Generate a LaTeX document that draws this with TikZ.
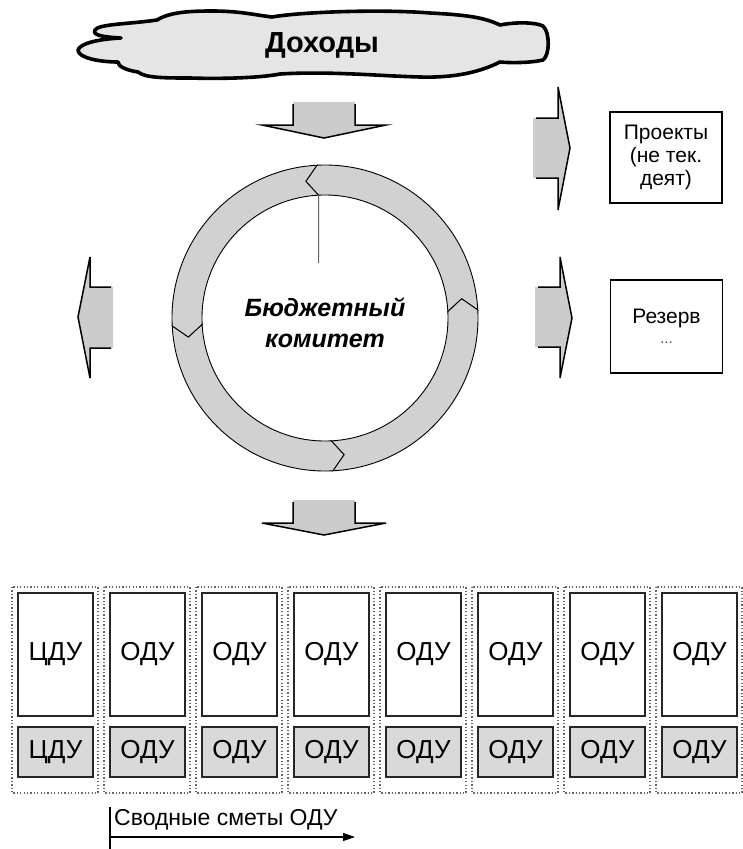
\documentclass[tikz,border=0pt]{standalone}
\usepackage{fontspec}
\setmainfont{Liberation Sans}
\usetikzlibrary{arrows.meta}
\definecolor{ringfill}{gray}{0.82}
\definecolor{arrowfill}{gray}{0.80}
\definecolor{cloudfill}{gray}{0.90}
\definecolor{boxfill}{gray}{0.85}
\definecolor{dotline}{gray}{0.40}
\tikzset{
  cloudline/.style={draw=black, line width=3.6, fill=cloudfill, line join=round},
  ringseg/.style={draw=black, line width=0.9, fill=ringfill, line join=miter},
  blockfill/.style={fill=arrowfill, draw=none},
  blockline/.style={draw=black, line width=1.5, line join=miter},
  sidebox/.style={draw=black, line width=1.5, fill=white, minimum width=112, minimum height=92,
    align=center, inner sep=0pt, font=\fontsize{21}{23}\selectfont},
  unitbox/.style={draw=black!85, line width=1.5, fill=white, minimum width=75, minimum height=123,
    inner sep=0pt, font=\fontsize{26}{28}\selectfont},
  sumbox/.style={draw=black!85, line width=1.5, fill=boxfill, minimum width=75, minimum height=50,
    inner sep=0pt, font=\fontsize{26}{28}\selectfont},
  dotbox/.style={draw=dotline, line width=1.3, dash pattern=on 1.3 off 2.1},
}
\begin{document}
\begin{tikzpicture}[x=1pt,y=-1pt]
\useasboundingbox (0,0) rectangle (742,849);

% income cloud
\path[cloudline] (78,50) .. controls (80,43) and (100,39) .. (121,38)
  .. controls (102,37) and (92,35) .. (95,30)
  .. controls (98,24) and (130,24) .. (157,20)
  .. controls (170,12) and (190,11) .. (212,11)
  .. controls (240,11) and (255,15) .. (272,17)
  .. controls (300,12) and (380,9) .. (430,13)
  .. controls (470,15) and (485,18) .. (500,25)
  .. controls (515,22) and (535,22) .. (543,26)
  .. controls (550,32) and (550,55) .. (543,60)
  .. controls (530,63) and (510,63) .. (500,62)
  .. controls (480,72) and (455,78) .. (420,77)
  .. controls (380,76) and (330,71) .. (280,74)
  .. controls (260,78) and (220,79) .. (190,78)
  .. controls (165,78) and (145,78) .. (138,72)
  .. controls (125,70) and (118,66) .. (118,62)
  .. controls (100,62) and (78,58) .. (78,50) -- cycle;
\node[font=\fontsize{29}{32}\selectfont\bfseries] (income) at (322,45) {Доходы};

% arrow from the cloud down to the committee
\fill[blockfill] (293,102) -- (293,125) -- (262,125) -- (324,138) -- (386,125) -- (355,125) -- (355,102) -- cycle;
\draw[blockline] (293,104) -- (293,125) -- (262,125) -- (324,138) -- (386,125) -- (355,125) -- (355,104);

% budget committee cycle
\begin{scope}[shift={(325,318)},yscale=-1]
  \def\ringtip{5}
  \foreach \a/\b in {3/93, 93/183, 183/273, 273/363} {
    \path[ringseg] (\a:123) -- (\a+\ringtip:138) -- (\a:153)
      arc[start angle=\a, end angle=\b, radius=153]
      -- (\b+\ringtip:138) -- (\b:123)
      arc[start angle=\b, end angle=\a, radius=123] -- cycle;
  }
  \coordinate (ringtop) at (93:123);
\end{scope}
\coordinate (pointer) at (318.6,263);
\draw[black!60, line width=1] (ringtop) -- (pointer);
\node[font=\fontsize{25}{31}\selectfont\bfseries\itshape, align=center] (committee) at (325,323) {Бюджетный\\комитет};

% arrow to the left
\fill[blockfill] (113,287) -- (90,287) -- (90,257) -- (78,317) -- (90,378) -- (90,348) -- (113,348) -- cycle;
\draw[blockline] (111,287) -- (90,287) -- (90,257) -- (78,317) -- (90,378) -- (90,348) -- (111,348);

% arrows to the right
\fill[blockfill] (533,118) -- (558,118) -- (558,87) -- (570,148) -- (558,210) -- (558,178) -- (533,178) -- cycle;
\draw[blockline] (536,118) -- (558,118) -- (558,87) -- (570,148) -- (558,210) -- (558,178) -- (536,178);
\fill[blockfill] (535,287) -- (560,287) -- (560,257) -- (572,318) -- (560,378) -- (560,347) -- (535,347) -- cycle;
\draw[blockline] (538,287) -- (560,287) -- (560,257) -- (572,318) -- (560,378) -- (560,347) -- (538,347);

\node[sidebox, minimum height=91] (projects) at (666,157.5) {Проекты\\(не тек.\\деят)};
\node[sidebox, minimum height=93] (reserve) at (666.5,326.5) {Резерв\\[-3pt]{\fontsize{15}{15}\selectfont\color{black!70}...}};

% arrow from the committee down to the units
\fill[blockfill] (293,500) -- (293,523) -- (262,523) -- (324,535) -- (386,523) -- (355,523) -- (355,500) -- cycle;
\draw[blockline] (293,502) -- (293,523) -- (262,523) -- (324,535) -- (386,523) -- (355,523) -- (355,502);

% units with their summary estimates
\foreach \i/\t in {0/ЦДУ,1/ОДУ,2/ОДУ,3/ОДУ,4/ОДУ,5/ОДУ,6/ОДУ,7/ОДУ} {
  \draw[dotbox] (12+92*\i,587) rectangle ++(86,206);
  \node[unitbox] (unit\i) at (55.5+92*\i,654.5) {\t};
  \node[sumbox] (sum\i) at (55.5+92*\i,752) {\t};
}

% caption arrow
\coordinate (capstart) at (110,837);
\coordinate (capend) at (355,837);
\coordinate (captop) at (110,807);
\coordinate (capbot) at (110,849);
\draw[line width=1.1] (captop) -- (capbot);
\draw[line width=1.1, -{Triangle[length=12,width=8]}] (capstart) -- (capend);
\node[anchor=west, font=\fontsize{23}{26}\selectfont, inner sep=0pt] (caption) at (114,820) {Сводные сметы ОДУ};
\end{tikzpicture}
\end{document}
